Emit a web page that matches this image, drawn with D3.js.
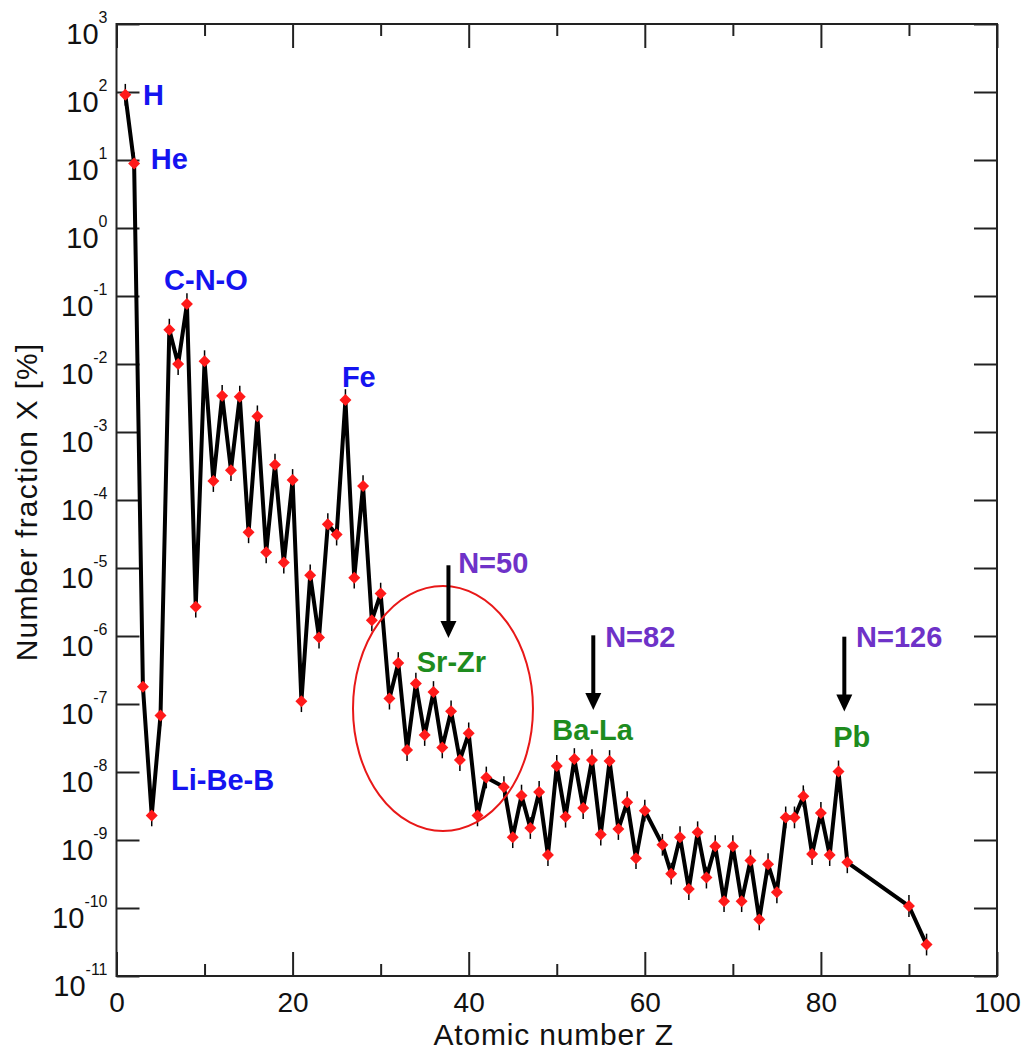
<!DOCTYPE html>
<html>
<head>
<meta charset="utf-8">
<script src="https://cdn.jsdelivr.net/npm/d3@7"></script>
<style>
body { margin: 0; background: #fff; }
svg text { font-family: "Liberation Sans", Arial, Helvetica, sans-serif; }
</style>
</head>
<body>
<svg id="chart" width="1024" height="1051"></svg>
<script>
// atomic number and number fraction X [%] (solar system abundances)
var atomicZ = [1, 2, 3, 4, 5, 6, 7, 8, 9, 10, 11, 12, 13, 14, 15, 16, 17, 18, 19, 20,
  21, 22, 23, 24, 25, 26, 27, 28, 29, 30, 31, 32, 33, 34, 35, 36, 37, 38, 39, 40,
  41, 42, 44, 45, 46, 47, 48, 49, 50, 51, 52, 53, 54, 55, 56, 57, 58, 59, 60,
  62, 63, 64, 65, 66, 67, 68, 69, 70, 71, 72, 73, 74, 75, 76, 77, 78, 79, 80,
  81, 82, 83, 90, 92];
var fraction = [91, 8.9, 1.8e-7, 2.3e-9, 6.8e-8, 3.2e-2, 1.0e-2, 7.6e-2, 2.7e-6, 1.1e-2,
  1.9e-4, 3.4e-3, 2.75e-4, 3.3e-3, 3.35e-5, 1.7e-3, 1.7e-5, 3.3e-4, 1.2e-5, 1.97e-4,
  1.1e-7, 7.8e-6, 9.5e-7, 4.4e-5, 3.1e-5, 2.95e-3, 7.2e-6, 1.6e-4, 1.7e-6, 4.2e-6,
  1.2e-7, 4.0e-7, 2.1e-8, 2.0e-7, 3.5e-8, 1.5e-7, 2.3e-8, 7.8e-8, 1.5e-8, 3.7e-8,
  2.3e-9, 8.3e-9, 6.0e-9, 1.1e-9, 4.5e-9, 1.5e-9, 5.1e-9, 6.0e-10, 1.23e-8, 2.2e-9,
  1.55e-8, 2.95e-9, 1.5e-8, 1.2e-9, 1.45e-8, 1.45e-9, 3.6e-9, 5.4e-10, 2.7e-9,
  8.5e-10, 3.2e-10, 1.1e-9, 1.9e-10, 1.3e-9, 2.8e-10, 8.1e-10, 1.26e-10, 8.1e-10,
  1.26e-10, 5.0e-10, 6.8e-11, 4.4e-10, 1.7e-10, 2.15e-9, 2.15e-9, 4.4e-9, 6.2e-10,
  2.5e-9, 6.0e-10, 1.02e-8, 4.7e-10, 1.07e-10, 2.9e-11];

var xTicks = [0, 20, 40, 60, 80, 100];
var xMinor = [10, 30, 50, 70, 90];
var yTicks = [1e-11, 1e-10, 1e-9, 1e-8, 1e-7, 1e-6, 1e-5, 1e-4, 1e-3, 1e-2, 1e-1, 1e0, 1e1, 1e2, 1e3];

// annotations: text, Z of left edge, log10 of baseline, colour
var labelText = ["H", "He", "C-N-O", "Fe", "Li-Be-B", "Sr-Zr", "Ba-La", "Pb", "N=50", "N=82", "N=126"];
var labelZ = [3.0, 3.9, 5.4, 25.6, 6.2, 34.1, 49.5, 81.4, 38.8, 55.5, 84.0];
var labelExp = [1.81, 0.87, -0.91, -2.34, -8.27, -6.53, -7.53, -7.63, -5.07, -6.16, -6.16];
var labelColor = ["#1414f0", "#1414f0", "#1414f0", "#1414f0", "#1414f0",
  "#1e8c1e", "#1e8c1e", "#1e8c1e", "#6e32c8", "#6e32c8", "#6e32c8"];
var arrowZ = [37.7, 54.15, 82.66];
var arrowFrom = [-4.96, -5.99, -6.01];
var arrowTo = [-6.03, -7.09, -7.11];

var w = 1024, h = 1051,
    m = [24, 27, 75, 116.5]; // top right bottom left
var iw = w - m[1] - m[3], ih = h - m[0] - m[2];

var x = d3.scaleLinear().domain([0, 100]).range([0, iw]);
var y = d3.scaleLog().domain([1e-11, 1e3]).range([ih, 0]);

var svg = d3.select("#chart");
var g = svg.append("g").attr("transform", "translate(" + m[3] + "," + m[0] + ")");

function styleAxis(sel) {
  sel.select(".domain").remove();
  sel.selectAll(".tick line").attr("stroke", "#222").attr("stroke-width", 2);
}

// axes, ticks pointing inward
var ax = g.append("g").attr("transform", "translate(0," + ih + ")")
  .call(d3.axisBottom(x).tickValues(xTicks).tickSize(-24).tickPadding(16).tickFormat(d3.format("d")));
ax.call(styleAxis);
ax.selectAll("text").attr("font-size", 28).attr("fill", "#111");
g.append("g").attr("transform", "translate(0," + ih + ")")
  .call(d3.axisBottom(x).tickValues(xMinor).tickSize(-12).tickFormat(""))
  .call(styleAxis);
g.append("g").call(d3.axisTop(x).tickValues(xTicks).tickSize(-24).tickFormat("")).call(styleAxis);
g.append("g").call(d3.axisTop(x).tickValues(xMinor).tickSize(-12).tickFormat("")).call(styleAxis);

var ay = g.append("g")
  .call(d3.axisLeft(y).tickValues(yTicks).tickSize(-23).tickPadding(9).tickFormat(""));
ay.call(styleAxis);
ay.selectAll(".tick text").each(function(d) {
  var t = d3.select(this).attr("dy", 19).attr("fill", "#111");
  t.append("tspan").attr("font-size", 29).text("10");
  t.append("tspan").attr("font-size", 16).attr("dy", -21).text(Math.round(Math.log10(d)));
});
g.append("g").attr("transform", "translate(" + iw + ",0)")
  .call(d3.axisRight(y).tickValues(yTicks).tickSize(-23).tickFormat(""))
  .call(styleAxis);

g.append("rect").attr("width", iw).attr("height", ih)
  .attr("fill", "none").attr("stroke", "#222").attr("stroke-width", 2);

// axis titles
g.append("text")
  .attr("x", iw / 2 - 3).attr("y", ih + 69)
  .attr("text-anchor", "middle").attr("font-size", 30).attr("letter-spacing", 0.8)
  .attr("fill", "#111").text("Atomic number Z");
g.append("text")
  .attr("transform", "translate(" + (37 - m[3]) + "," + (ih / 2 + 2) + ") rotate(-90)")
  .attr("text-anchor", "middle").attr("font-size", 30).attr("letter-spacing", 1.2)
  .attr("fill", "#111").text("Number fraction X [%]");

// data
var data = atomicZ.map(function(z, i) { return { z: z, v: fraction[i] }; });

var errDex = 0.16;
g.selectAll("line.err").data(data).enter().append("line")
  .attr("class", "err")
  .attr("x1", function(d) { return x(d.z); }).attr("x2", function(d) { return x(d.z); })
  .attr("y1", function(d) { return y(d.v * Math.pow(10, errDex)); })
  .attr("y2", function(d) { return y(d.v / Math.pow(10, errDex)); })
  .attr("stroke", "#000").attr("stroke-width", 1.5);

var line = d3.line().x(function(d) { return x(d.z); }).y(function(d) { return y(d.v); });
g.append("path").datum(data)
  .attr("d", line).attr("fill", "none").attr("stroke", "#000").attr("stroke-width", 4);

var diamond = {
  draw: function(ctx, size) {
    var r = Math.sqrt(size / 2);
    ctx.moveTo(0, -r); ctx.lineTo(r, 0); ctx.lineTo(0, r); ctx.lineTo(-r, 0); ctx.closePath();
  }
};
g.selectAll("path.pt").data(data).enter().append("path")
  .attr("class", "pt")
  .attr("transform", function(d) { return "translate(" + x(d.z) + "," + y(d.v) + ")"; })
  .attr("d", d3.symbol().type(diamond).size(72))
  .attr("fill", "#ff1a1a");

// highlight ellipse around Sr-Zr
var ex0 = x(26.86), ex1 = x(47.3), ey0 = y(Math.pow(10, -5.265)), ey1 = y(Math.pow(10, -8.868));
g.append("ellipse")
  .attr("cx", (ex0 + ex1) / 2).attr("cy", (ey0 + ey1) / 2)
  .attr("rx", (ex1 - ex0) / 2).attr("ry", (ey1 - ey0) / 2)
  .attr("fill", "none").attr("stroke", "#e81818").attr("stroke-width", 2);

// arrows
arrowZ.forEach(function(z, i) {
  var ax0 = x(z), yA = y(Math.pow(10, arrowFrom[i])), yB = y(Math.pow(10, arrowTo[i]));
  g.append("line").attr("x1", ax0).attr("x2", ax0).attr("y1", yA).attr("y2", yB - 14)
    .attr("stroke", "#000").attr("stroke-width", 4);
  g.append("path")
    .attr("d", "M" + (ax0 - 8) + "," + (yB - 17) + "L" + (ax0 + 8) + "," + (yB - 17) + "L" + ax0 + "," + yB + "Z")
    .attr("fill", "#000");
});

// labels
labelText.forEach(function(t, i) {
  g.append("text")
    .attr("x", x(labelZ[i])).attr("y", y(Math.pow(10, labelExp[i])))
    .attr("font-size", 29).attr("font-weight", "bold")
    .attr("fill", labelColor[i]).text(t);
});
</script>
</body>
</html>
